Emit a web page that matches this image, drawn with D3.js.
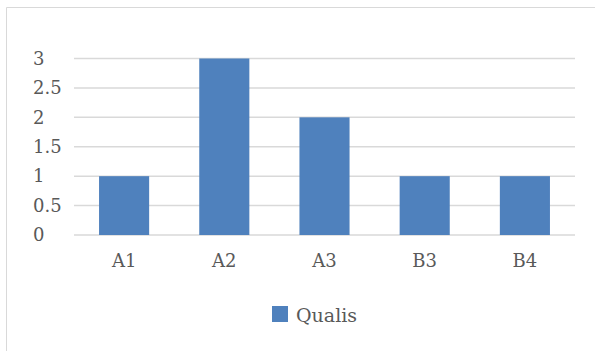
<!DOCTYPE html>
<html>
<head>
<meta charset="utf-8">
<script src="https://cdn.jsdelivr.net/npm/d3@7/dist/d3.min.js"></script>
<style>
  html, body { margin: 0; padding: 0; background: #fff; }
  svg { display: block; }
  text { font-family: "DejaVu Serif", serif; fill: #595959; }
</style>
</head>
<body>
<svg id="chart" width="595" height="351"></svg>
<script>
// Qualis counts per category
const categories = ["A1", "A2", "A3", "B3", "B4"];
const qualisValues = [1, 3, 2, 1, 1];
const yTicks = [0, 0.5, 1, 1.5, 2, 2.5, 3];
const seriesName = "Qualis";

const svg = d3.select("#chart");
const barColor = "#4f81bd";
const gridColor = "#d9d9d9";

// chart frame
svg.append("path")
  .attr("d", "M6.5,351 V7.5 H595")
  .attr("fill", "none")
  .attr("stroke", gridColor)
  .attr("stroke-width", 1);

const x = d3.scaleBand()
  .domain(categories)
  .range([74, 575])
  .paddingInner(0.5)
  .paddingOuter(0.25);

const y = d3.scaleLinear()
  .domain([0, 3])
  .range([235, 58.5]);

// horizontal gridlines
svg.append("g")
  .selectAll("line")
  .data(yTicks)
  .join("line")
  .attr("x1", 74)
  .attr("x2", 575)
  .attr("y1", d => y(d))
  .attr("y2", d => y(d))
  .attr("stroke", gridColor)
  .attr("stroke-width", 1.5);

// y axis labels, left-aligned in their column
const yAxis = d3.axisLeft(y)
  .tickValues(yTicks)
  .tickFormat(d3.format("~g"))
  .tickSize(0)
  .tickPadding(0);

svg.append("g")
  .attr("transform", "translate(33,0)")
  .call(yAxis)
  .call(g => g.select(".domain").remove())
  .call(g => g.selectAll("text")
    .attr("text-anchor", "start")
    .attr("x", 0)
    .attr("font-family", "DejaVu Serif, serif")
    .attr("font-size", 18)
    .attr("fill", "#595959"));

// bars
svg.append("g")
  .selectAll("rect")
  .data(categories.map((c, i) => ({ c, v: qualisValues[i] })))
  .join("rect")
  .attr("x", d => x(d.c))
  .attr("y", d => y(d.v))
  .attr("width", x.bandwidth())
  .attr("height", d => y(0) - y(d.v))
  .attr("fill", barColor);

// category axis labels
const xAxis = d3.axisBottom(x)
  .tickSize(0)
  .tickPadding(0);

svg.append("g")
  .attr("transform", "translate(0,235)")
  .call(xAxis)
  .call(g => g.select(".domain").remove())
  .call(g => g.selectAll("text")
    .attr("dy", null)
    .attr("y", 32)
    .attr("font-family", "DejaVu Serif, serif")
    .attr("font-size", 18)
    .attr("fill", "#595959"));

// legend
const legend = svg.append("g").attr("transform", "translate(272,306)");
legend.append("rect")
  .attr("width", 16)
  .attr("height", 16)
  .attr("fill", barColor);
legend.append("text")
  .attr("x", 24)
  .attr("y", 16)
  .attr("font-size", 19)
  .text(seriesName);
</script>
</body>
</html>
